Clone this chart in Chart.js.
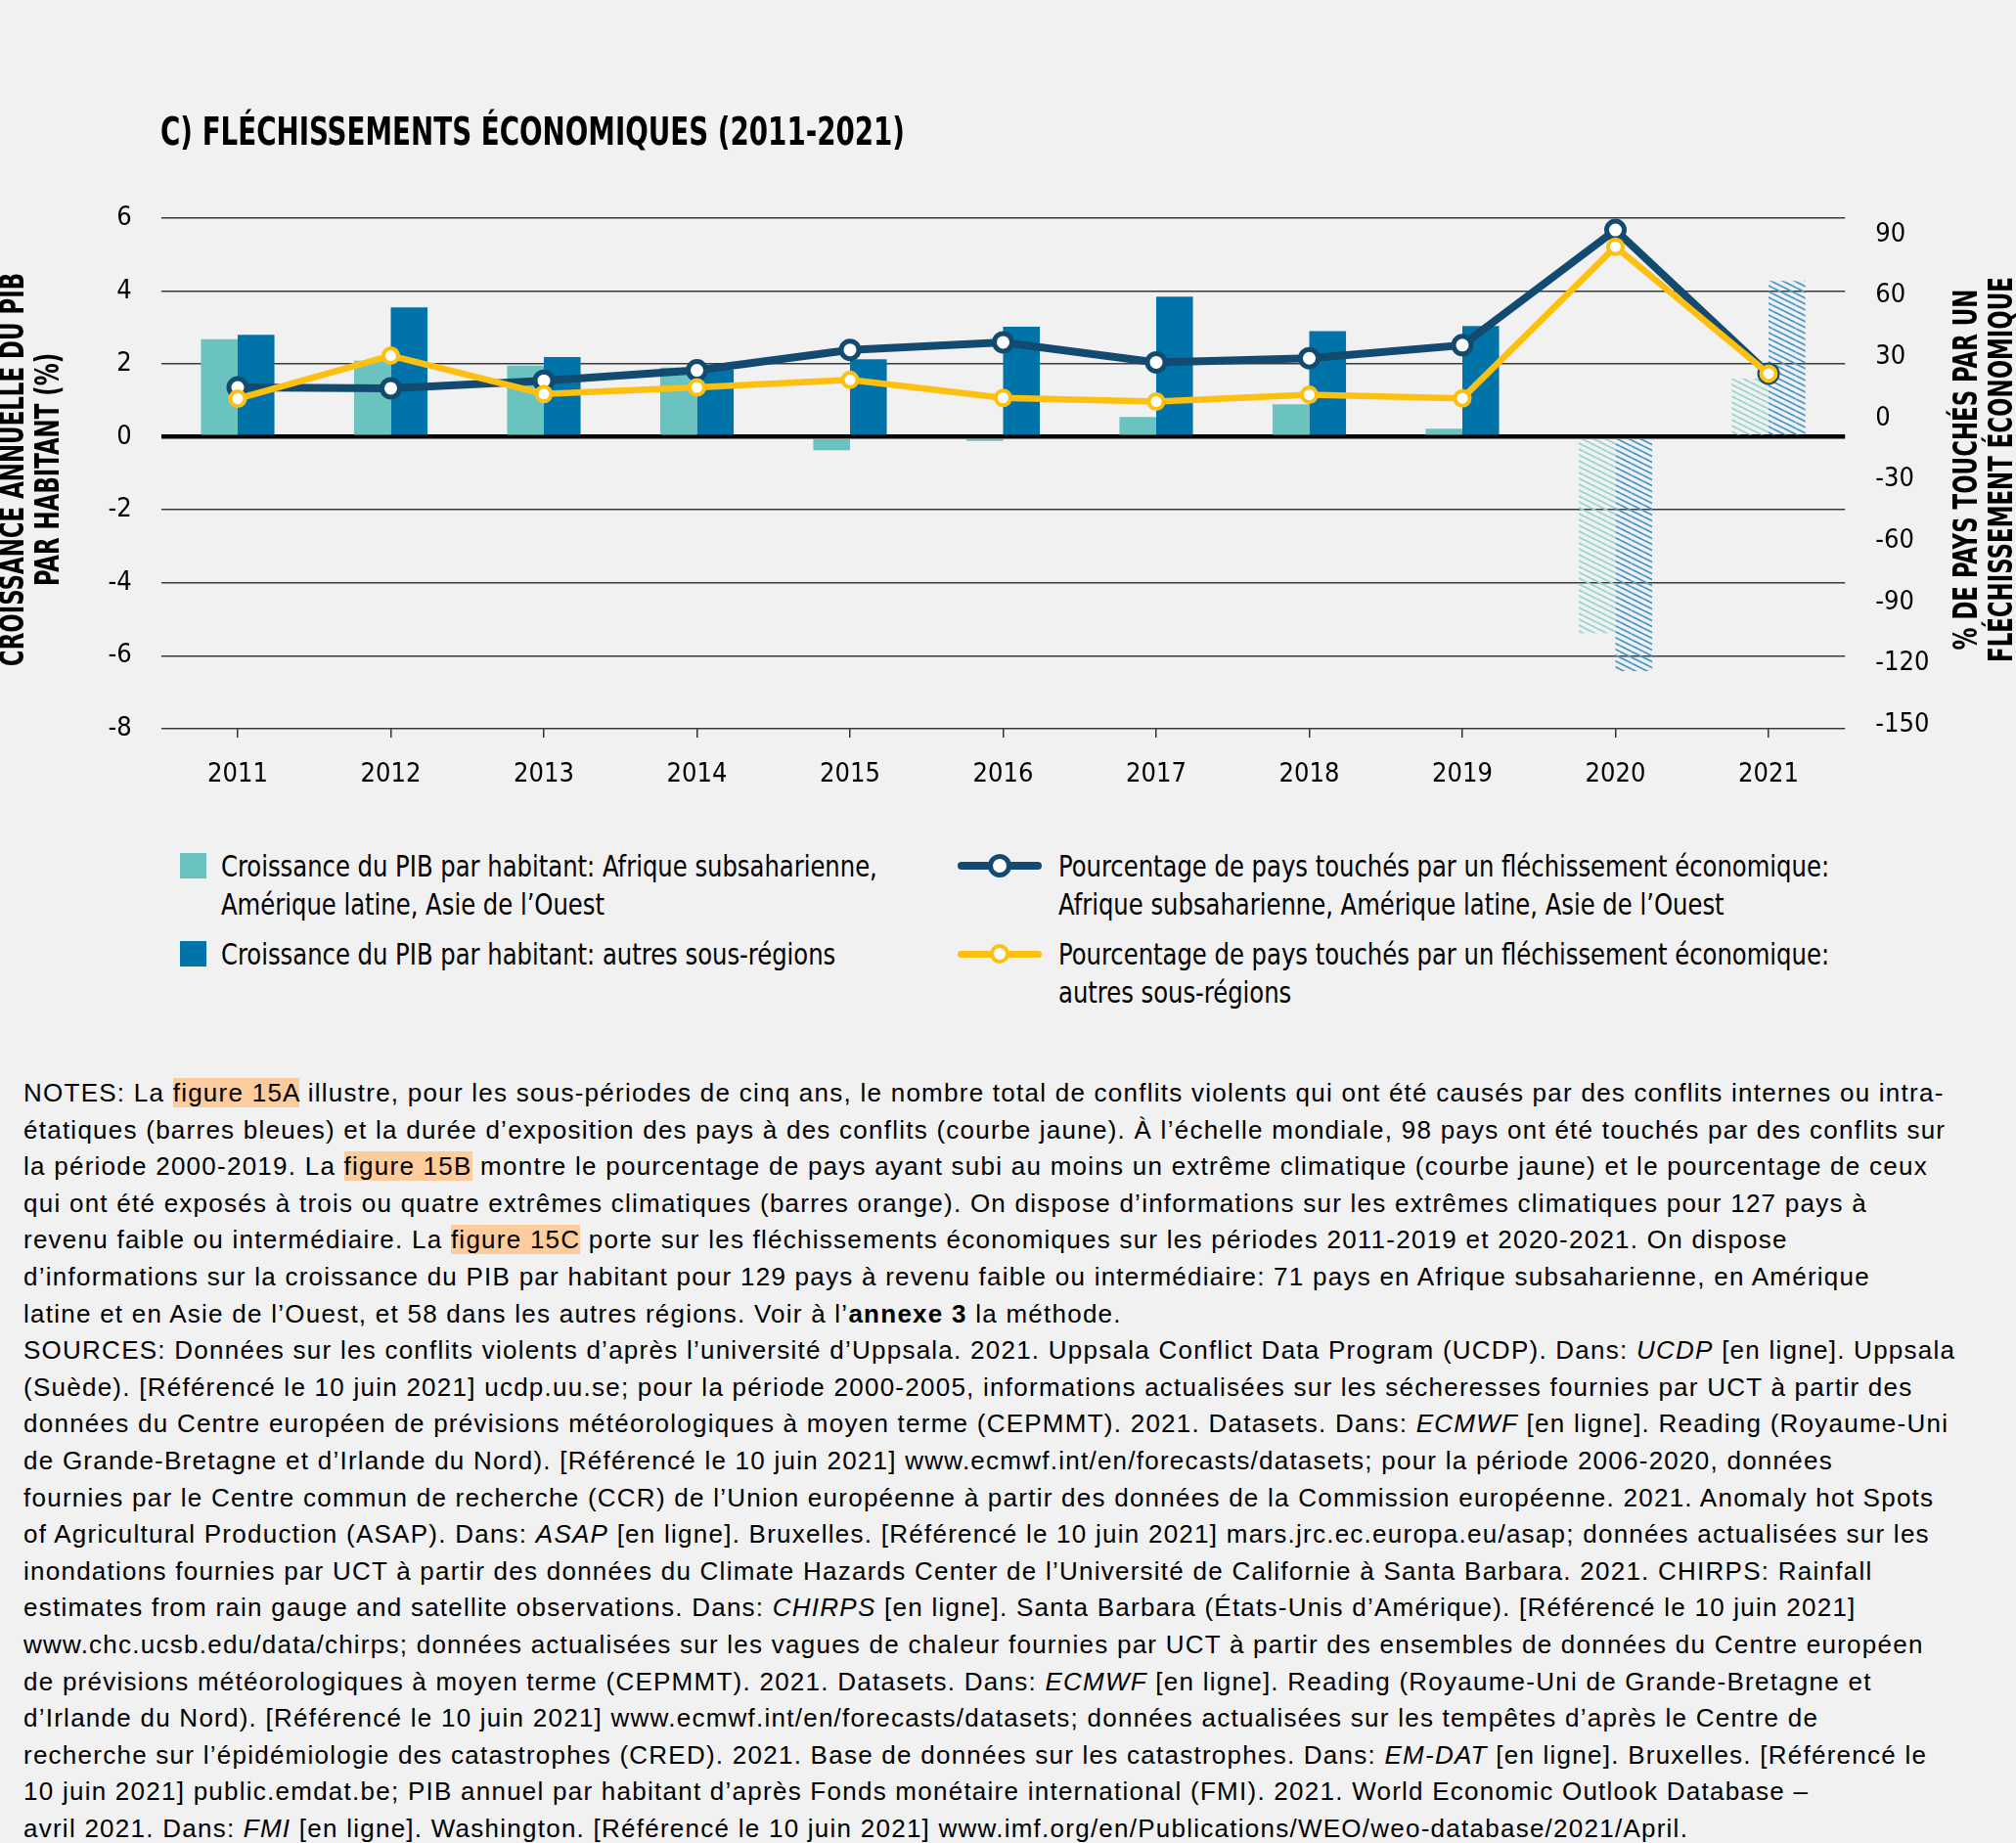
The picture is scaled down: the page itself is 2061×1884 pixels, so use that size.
<!DOCTYPE html>
<html lang="fr">
<head>
<meta charset="utf-8">
<title>Fléchissements économiques 2011-2021</title>
<script src="https://cdn.jsdelivr.net/npm/chart.js@4.4.1/dist/chart.umd.min.js"></script>
<style>
  html, body { margin: 0; padding: 0; background: #f1f1f1; }
  body { width: 2061px; height: 1884px; position: relative; overflow: hidden; color: #000; }
  #chartCanvas { position: absolute; left: 0; top: 0; }
  .narrow { font-family: 'DejaVu Sans Condensed', 'Liberation Sans Narrow', sans-serif; }
  #title { position: absolute; left: 164px; top: 112px; font-size: 39px; font-weight: bold; line-height: 46px;
           white-space: nowrap; transform: scaleX(0.79); transform-origin: left center; }
  .lg { position: absolute; font-size: 30px; line-height: 39px; white-space: nowrap;
        transform: scaleX(0.9); transform-origin: left center; }
  .sw { position: absolute; width: 27px; height: 26px; }
  .sym { position: absolute; }
  .sym .bar { position: absolute; left: 0; border-radius: 5px; }
  .sym .dot { position: absolute; border-radius: 50%; background: #fff; box-sizing: border-box; }
  #notes { position: absolute; left: 24px; top: 1099px; font-family: 'Liberation Sans', Arial, sans-serif;
           font-size: 26px; letter-spacing: 1.25px; line-height: 37.6px; white-space: nowrap; }
  .hl { background: #fccc9c; }
</style>
</head>
<body>
<canvas id="chartCanvas" width="2061" height="830"></canvas>
<div id="title" class="narrow">C) FLÉCHISSEMENTS ÉCONOMIQUES (2011-2021)</div>

<div class="sw" style="left:184px; top:872px; background:#6bc3bf;"></div>
<div class="lg narrow" style="left:226px; top:866px;">Croissance du PIB par habitant: Afrique subsaharienne,<br>Amérique latine, Asie de l’Ouest</div>
<div class="sw" style="left:184px; top:962px; background:#0073a8;"></div>
<div class="lg narrow" style="left:226px; top:956px;">Croissance du PIB par habitant: autres sous-régions</div>

<div class="sym" style="left:979px; top:873px; width:86px; height:24px;">
  <div class="bar" style="top:8px; width:86px; height:8px; background:#134a70;"></div>
  <div class="dot" style="left:31px; top:0; width:24px; height:24px; border:5px solid #134a70;"></div>
</div>
<div class="lg narrow" style="left:1082px; top:866px;">Pourcentage de pays touchés par un fléchissement économique:<br>Afrique subsaharienne, Amérique latine, Asie de l’Ouest</div>
<div class="sym" style="left:979px; top:965px; width:86px; height:20px;">
  <div class="bar" style="top:7px; width:86px; height:7px; background:#fdbf10;"></div>
  <div class="dot" style="left:33px; top:0; width:20px; height:20px; border:4px solid #fdbf10;"></div>
</div>
<div class="lg narrow" style="left:1082px; top:956px;">Pourcentage de pays touchés par un fléchissement économique:<br>autres sous-régions</div>

<div id="notes">
NOTES: La <span class="hl">figure 15A</span> illustre, pour les sous-périodes de cinq ans, le nombre total de conflits violents qui ont été causés par des conflits internes ou intra-<br>
étatiques (barres bleues) et la durée d’exposition des pays à des conflits (courbe jaune). À l’échelle mondiale, 98 pays ont été touchés par des conflits sur<br>
la période 2000-2019. La <span class="hl">figure 15B</span> montre le pourcentage de pays ayant subi au moins un extrême climatique (courbe jaune) et le pourcentage de ceux<br>
qui ont été exposés à trois ou quatre extrêmes climatiques (barres orange). On dispose d’informations sur les extrêmes climatiques pour 127 pays à<br>
revenu faible ou intermédiaire. La <span class="hl">figure 15C</span> porte sur les fléchissements économiques sur les périodes 2011-2019 et 2020-2021. On dispose<br>
d’informations sur la croissance du PIB par habitant pour 129 pays à revenu faible ou intermédiaire: 71 pays en Afrique subsaharienne, en Amérique<br>
latine et en Asie de l’Ouest, et 58 dans les autres régions. Voir à l’<b>annexe 3</b> la méthode.<br>
SOURCES: Données sur les conflits violents d’après l’université d’Uppsala. 2021. Uppsala Conflict Data Program (UCDP). Dans: <i>UCDP</i> [en ligne]. Uppsala<br>
(Suède). [Référencé le 10 juin 2021] ucdp.uu.se; pour la période 2000-2005, informations actualisées sur les sécheresses fournies par UCT à partir des<br>
données du Centre européen de prévisions météorologiques à moyen terme (CEPMMT). 2021. Datasets. Dans: <i>ECMWF</i> [en ligne]. Reading (Royaume-Uni<br>
de Grande-Bretagne et d’Irlande du Nord). [Référencé le 10 juin 2021] www.ecmwf.int/en/forecasts/datasets; pour la période 2006-2020, données<br>
fournies par le Centre commun de recherche (CCR) de l’Union européenne à partir des données de la Commission européenne. 2021. Anomaly hot Spots<br>
of Agricultural Production (ASAP). Dans: <i>ASAP</i> [en ligne]. Bruxelles. [Référencé le 10 juin 2021] mars.jrc.ec.europa.eu/asap; données actualisées sur les<br>
inondations fournies par UCT à partir des données du Climate Hazards Center de l’Université de Californie à Santa Barbara. 2021. CHIRPS: Rainfall<br>
estimates from rain gauge and satellite observations. Dans: <i>CHIRPS</i> [en ligne]. Santa Barbara (États-Unis d’Amérique). [Référencé le 10 juin 2021]<br>
www.chc.ucsb.edu/data/chirps; données actualisées sur les vagues de chaleur fournies par UCT à partir des ensembles de données du Centre européen<br>
de prévisions météorologiques à moyen terme (CEPMMT). 2021. Datasets. Dans: <i>ECMWF</i> [en ligne]. Reading (Royaume-Uni de Grande-Bretagne et<br>
d’Irlande du Nord). [Référencé le 10 juin 2021] www.ecmwf.int/en/forecasts/datasets; données actualisées sur les tempêtes d’après le Centre de<br>
recherche sur l’épidémiologie des catastrophes (CRED). 2021. Base de données sur les catastrophes. Dans: <i>EM-DAT</i> [en ligne]. Bruxelles. [Référencé le<br>
10 juin 2021] public.emdat.be; PIB annuel par habitant d’après Fonds monétaire international (FMI). 2021. World Economic Outlook Database –<br>
avril 2021. Dans: <i>FMI</i> [en ligne]. Washington. [Référencé le 10 juin 2021] www.imf.org/en/Publications/WEO/weo-database/2021/April.
</div>

<script>
// --- data ---
const years = ['2011', '2012', '2013', '2014', '2015', '2016', '2017', '2018', '2019', '2020', '2021'];
const projectedYears = ['2020', '2021'];

// croissance annuelle du PIB par habitant (%)
const pibAfriqueAmlatAsieO = [2.68, 2.09, 1.96, 1.90, -0.36, -0.11, 0.55, 0.90, 0.23, -5.38, 1.60];
const pibAutres = [2.80, 3.55, 2.19, 1.85, 2.13, 3.02, 3.85, 2.90, 3.04, -6.42, 4.28];

// % de pays touchés par un fléchissement économique
const paysTouchesAfriqueAmlatAsieO = [15.1, 14.7, 18.4, 23.5, 33.5, 37.2, 27.4, 29.4, 35.8, 92.2, 21.9];
const paysTouchesAutres = [9.6, 30.7, 11.9, 15.1, 18.8, 10.0, 8.2, 11.5, 9.8, 84.0, 21.9];

const leftTicks = [-8, -6, -4, -2, 0, 2, 4, 6];
const rightTicks = [-150, -120, -90, -60, -30, 0, 30, 60, 90];

const leftTitle = ['CROISSANCE ANNUELLE DU PIB', 'PAR HABITANT (%)'];
const rightTitle = ['% DE PAYS TOUCHÉS PAR UN', 'FLÉCHISSEMENT ÉCONOMIQUE'];

const NARROW = "'DejaVu Sans Condensed', 'Liberation Sans Narrow', sans-serif";

function hatch(color) {
    const c = document.createElement('canvas');
    c.width = 12;
    c.height = 6;
    const g = c.getContext('2d');
    g.strokeStyle = color;
    g.lineWidth = 1.8;
    g.beginPath();
    for (let k = -1; k <= 1; k++) {
        g.moveTo(0, k * 6);
        g.lineTo(12, 6 + k * 6);
    }
    g.stroke();
    return g.createPattern(c, 'repeat');
}

const lightHatch = hatch('#98d3d0');
const darkHatch = hatch('#4a98c6');

const lightColors = years.map(y => projectedYears.includes(y) ? lightHatch : '#6bc3bf');
const darkColors = years.map(y => projectedYears.includes(y) ? darkHatch : '#0073a8');

// rotated two-line axis titles (right one reads bottom to top as well)
const axisTitles = {
    id: 'axisTitles',
    afterDraw(chart) {
        const ctx = chart.ctx;
        const cy = 480;
        const draw = (x, text) => {
            ctx.save();
            ctx.translate(x, cy);
            ctx.rotate(-Math.PI / 2);
            ctx.scale(0.77, 1);
            ctx.fillText(text, 0, 0);
            ctx.restore();
        };
        ctx.save();
        ctx.font = 'bold 33px ' + NARROW;
        ctx.fillStyle = '#000';
        ctx.textAlign = 'center';
        ctx.textBaseline = 'middle';
        draw(15, leftTitle[0]);
        draw(51, leftTitle[1]);
        draw(2012, rightTitle[0]);
        draw(2048, rightTitle[1]);
        ctx.restore();
    }
};

Chart.defaults.font.family = NARROW;
Chart.defaults.color = '#000';

const ctx = document.getElementById('chartCanvas').getContext('2d');

new Chart(ctx, {
    type: 'bar',
    data: {
        labels: years,
        datasets: [
            {
                type: 'line',
                label: 'Pourcentage de pays touchés: autres sous-régions',
                data: paysTouchesAutres,
                yAxisID: 'y2',
                borderColor: '#fdbf10',
                borderWidth: 6.5,
                pointRadius: 7.5,
                pointBorderWidth: 4,
                pointBackgroundColor: '#fff',
                pointBorderColor: '#fdbf10',
                tension: 0,
                order: 0
            },
            {
                type: 'line',
                label: 'Pourcentage de pays touchés: Afrique subsaharienne, Amérique latine, Asie de l’Ouest',
                data: paysTouchesAfriqueAmlatAsieO,
                yAxisID: 'y2',
                borderColor: '#134a70',
                borderWidth: 8,
                pointRadius: 9,
                pointBorderWidth: 5,
                pointBackgroundColor: '#fff',
                pointBorderColor: '#134a70',
                tension: 0,
                order: 1
            },
            {
                label: 'Croissance du PIB par habitant: Afrique subsaharienne, Amérique latine, Asie de l’Ouest',
                data: pibAfriqueAmlatAsieO,
                yAxisID: 'y',
                backgroundColor: lightColors,
                borderWidth: 0,
                categoryPercentage: 0.48,
                barPercentage: 1,
                order: 2
            },
            {
                label: 'Croissance du PIB par habitant: autres sous-régions',
                data: pibAutres,
                yAxisID: 'y',
                backgroundColor: darkColors,
                borderWidth: 0,
                categoryPercentage: 0.48,
                barPercentage: 1,
                order: 3
            }
        ]
    },
    options: {
        responsive: false,
        animation: false,
        devicePixelRatio: 1,
        layout: { padding: { top: 223, left: 0, right: 0, bottom: 0 } },
        plugins: {
            legend: { display: false },
            tooltip: { enabled: false }
        },
        scales: {
            x: {
                grid: {
                    display: true,
                    drawOnChartArea: false,
                    drawTicks: true,
                    tickLength: 9,
                    offset: false,
                    color: '#333',
                    lineWidth: 1.5
                },
                border: { display: false },
                ticks: { font: { size: 27 }, padding: 22, color: '#000' },
                afterFit(scale) { scale.height = 85; }
            },
            y: {
                position: 'left',
                min: -8,
                max: 6,
                afterBuildTicks(scale) { scale.ticks = leftTicks.map(v => ({ value: v })); },
                grid: {
                    drawTicks: false,
                    color: c => c.tick && c.tick.value === 0 ? '#000' : '#3a3a3a',
                    lineWidth: c => c.tick && c.tick.value === 0 ? 4.5 : 1.6
                },
                border: { display: false },
                ticks: { font: { size: 27 }, padding: 30, color: '#000' },
                afterFit(scale) { scale.width = 164.75; }
            },
            y2: {
                position: 'right',
                min: -152,
                max: 98,
                afterBuildTicks(scale) { scale.ticks = rightTicks.map(v => ({ value: v })); },
                grid: { display: false, drawTicks: false },
                border: { display: false },
                ticks: { font: { size: 27 }, padding: 31, color: '#000' },
                afterFit(scale) { scale.width = 174.75; }
            }
        }
    },
    plugins: [axisTitles]
});
</script>
</body>
</html>
